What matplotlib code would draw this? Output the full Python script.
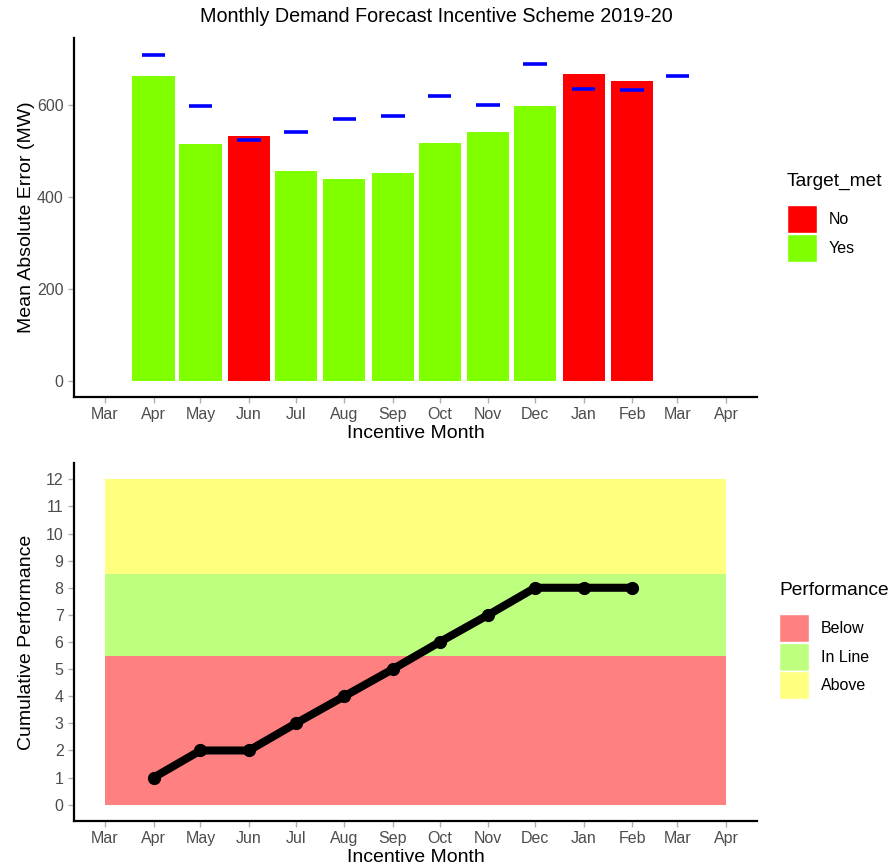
import datetime as dt

import matplotlib
matplotlib.use("Agg")
import matplotlib.pyplot as plt
import matplotlib.dates as mdates
from matplotlib.patches import Patch

plt.rcParams["font.family"] = ["Liberation Sans", "DejaVu Sans"]

# ---- data -------------------------------------------------------------
bar_months = ["2019-04", "2019-05", "2019-06", "2019-07", "2019-08", "2019-09",
              "2019-10", "2019-11", "2019-12", "2020-01", "2020-02"]
mae = [663, 515, 532, 457, 438, 451, 518, 542, 598, 668, 653]
target_met = ["Yes", "Yes", "No", "Yes", "Yes", "Yes", "Yes", "Yes", "Yes", "No", "No"]

target_months = bar_months + ["2020-03"]
targets = [709, 597, 523, 541, 569, 576, 619, 599, 690, 635, 633, 663]

cum_perf = [1, 2, 2, 3, 4, 5, 6, 7, 8, 8, 8]

band_names = ["Below", "In Line", "Above"]
band_lo = [0, 5.5, 8.5]
band_hi = [5.5, 8.5, 12]

axis_start, axis_end = "2019-03", "2020-04"

MET_COLORS = {"No": "#FF0000", "Yes": "#80FF00"}
BAND_COLORS = ["#FF8080", "#BFFF80", "#FFFF80"]


def d(s):
    return mdates.date2num(dt.datetime.strptime(s + "-01", "%Y-%m-%d"))


xb = [d(m) for m in bar_months]
xt = [d(m) for m in target_months]
x0, x1 = d(axis_start), d(axis_end)
pad = 0.05 * (x1 - x0)

fig = plt.figure(figsize=(8.92, 8.67), dpi=100)
W, H = 892, 867
ax1 = fig.add_axes([74 / W, 1 - 397 / H, (757 - 74) / W, (397 - 38) / H])
ax2 = fig.add_axes([74 / W, 1 - 821 / H, (757 - 74) / W, (821 - 463) / H])


def legend(ax, handles, title, left, top):
    leg = ax.legend(handles=handles, title=title, loc="upper left",
                    bbox_to_anchor=(left / W, 1 - top / H), bbox_transform=fig.transFigure,
                    frameon=False, fontsize=11.5, title_fontsize=13.8,
                    handlelength=1.85, handleheight=2.3, handletextpad=0.75,
                    labelspacing=0.05, borderaxespad=0, borderpad=0)
    leg._legend_box.align = "left"
    leg._legend_box.sep = 11
    return leg


# ---- top: monthly MAE vs target ---------------------------------------
ax1.bar(xb, mae, width=27, color=[MET_COLORS[t] for t in target_met], zorder=2)
ax1.hlines(targets, [x - 7.5 for x in xt], [x + 7.5 for x in xt],
           color="#0000FF", lw=2.6, zorder=3)
ax1.set_ylim(-35.5, 745.5)
ax1.set_yticks([0, 200, 400, 600])
ax1.set_ylabel("Mean Absolute Error (MW)", fontsize=14, labelpad=1)
legend(ax1, [Patch(facecolor=MET_COLORS[k], edgecolor="white", label=k) for k in ["No", "Yes"]],
       "Target_met", 787, 173)

# ---- bottom: cumulative performance ------------------------------------
for lo, hi, c in zip(band_lo, band_hi, BAND_COLORS):
    ax2.fill_between([x0, x1], lo, hi, color=c, lw=0, zorder=1)
ax2.plot(xb, cum_perf, color="black", lw=5.8, marker="o", ms=8.5,
         solid_capstyle="round", zorder=3)
ax2.set_ylim(-0.6, 12.6)
ax2.set_yticks(range(0, 13))
ax2.set_ylabel("Cumulative Performance", fontsize=14, labelpad=8)
legend(ax2, [Patch(facecolor=c, edgecolor="white", label=n) for n, c in zip(band_names, BAND_COLORS)],
       "Performance", 779, 582)

for ax in (ax1, ax2):
    ax.set_xlim(x0 - pad, x1 + pad)
    ax.xaxis.set_major_locator(mdates.MonthLocator())
    ax.xaxis.set_major_formatter(mdates.DateFormatter("%b"))
    ax.set_xlabel("Incentive Month", fontsize=14, labelpad=2)
    ax.spines[["top", "right"]].set_visible(False)
    ax.spines[["left", "bottom"]].set_linewidth(1.6)
    ax.tick_params(colors="#B0B0B0", labelcolor="#4D4D4D", labelsize=11.5,
                   length=4, width=1)

fig.text(436 / W, 1 - 17 / H, "Monthly Demand Forecast Incentive Scheme 2019-20",
         ha="center", va="center", fontsize=14.2)

fig.savefig("out.png", dpi=100)
